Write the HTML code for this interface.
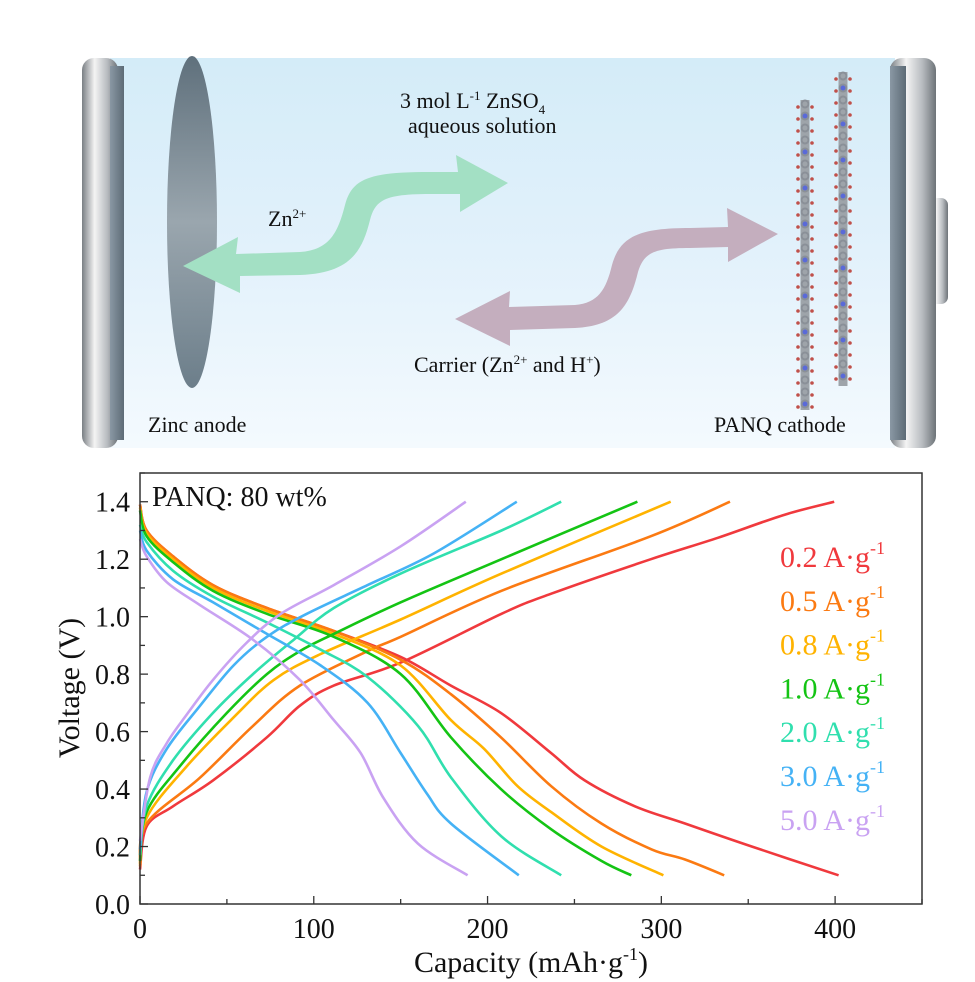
<!DOCTYPE html>
<html><head><meta charset="utf-8">
<style>
html,body{margin:0;padding:0;background:#fff;}
svg{display:block;font-family:"Liberation Serif",serif;}
</style></head>
<body>
<svg id="fig" width="975" height="982" viewBox="0 0 975 982" xmlns="http://www.w3.org/2000/svg">
<defs>
<linearGradient id="tube" x1="0" y1="0" x2="0" y2="1">
<stop offset="0" stop-color="#d4ecf8"/><stop offset="0.5" stop-color="#e2f1fb"/><stop offset="1" stop-color="#f4fafe"/>
</linearGradient>
<linearGradient id="cap" x1="0" y1="0" x2="1" y2="0">
<stop offset="0" stop-color="#7a7f84"/><stop offset="0.35" stop-color="#f4f4f4"/><stop offset="0.7" stop-color="#b8bcc0"/><stop offset="1" stop-color="#6d7378"/>
</linearGradient>
<linearGradient id="inner" x1="0" y1="0" x2="1" y2="0">
<stop offset="0" stop-color="#8a98a4"/><stop offset="1" stop-color="#5d6b76"/>
</linearGradient>
<linearGradient id="zinc" x1="0" y1="0" x2="0" y2="1">
<stop offset="0" stop-color="#5f707c"/><stop offset="0.5" stop-color="#9aa6ae"/><stop offset="1" stop-color="#6c7e8a"/>
</linearGradient>
</defs>

<g>
<rect x="110" y="58" width="785" height="390" fill="url(#tube)"/>
<rect x="82" y="58" width="36" height="390" rx="12" fill="url(#cap)"/>
<rect x="110" y="66" width="14" height="374" fill="url(#inner)"/>
<rect x="930" y="198" width="18" height="106" rx="7" fill="url(#cap)"/>
<rect x="890" y="58" width="46" height="390" rx="12" fill="url(#cap)"/>
<rect x="890" y="66" width="16" height="374" fill="url(#inner)"/>
<ellipse cx="192" cy="222" rx="25" ry="166" fill="url(#zinc)"/>
<path fill="#a3e0c4" d="M183,266 L238,237 L236,254 L300,252 C330,250 338,232 345,205 C352,178 370,172 430,172 L458,172 L456,155 L508,183 L460,212 L460,194 L430,194 C385,194 375,200 370,220 C362,252 350,273 300,275 L240,276 L240,293 Z"/>
<path fill="#c4aebe" d="M455,319 L510,291 L509,307 L575,305 C598,303 606,290 612,265 C620,236 640,228 690,228 L728,227 L727,208 L778,234 L728,262 L728,247 L690,248 C655,248 644,252 638,272 C630,305 618,326 575,328 L510,330 L510,346 Z"/>
<g id="chain1"></g>
<g id="chain2"></g>
<text x="400" y="108" font-size="22" fill="#111">3 mol L<tspan dy="-8" font-size="13">-1</tspan><tspan dy="8"> ZnSO</tspan><tspan dy="6" font-size="13">4</tspan></text>
<text x="408" y="133" font-size="22" fill="#111">aqueous solution</text>
<text x="268" y="226" font-size="22" fill="#111">Zn<tspan dy="-8" font-size="13">2+</tspan></text>
<text x="414" y="372" font-size="22" fill="#111">Carrier (Zn<tspan dy="-8" font-size="13">2+</tspan><tspan dy="8"> and H</tspan><tspan dy="-8" font-size="13">+</tspan><tspan dy="8">)</tspan></text>
<text x="148" y="432" font-size="22" fill="#111">Zinc anode</text>
<text x="714" y="432" font-size="22" fill="#111">PANQ cathode</text>
</g>

<g id="chart"></g>
</svg>
<script>
const seriesLabels = ["0.2 A·g", "0.5 A·g", "0.8 A·g", "1.0 A·g", "2.0 A·g", "3.0 A·g", "5.0 A·g"];
const seriesColors = ["#f0393d", "#fb7a12", "#ffb300", "#14c414", "#30dfae", "#45b2f5", "#c9a2f2"];
const xTicks = [0, 100, 200, 300, 400];
const yTicks = [0.0, 0.2, 0.4, 0.6, 0.8, 1.0, 1.2, 1.4];
const chargeCap = [
 [0,3.8,19,42,73,92,111.5,150,208,236.6,294,332.7,371,399.5],
 [0,3.8,34.6,65,92,131,150,208,294,339.5],
 [0,3.8,27,54,77,104,150,208,305.4],
 [0,3.8,23,50,73,92,111.5,150,208,286.2],
 [0,3.8,19,42,65,88.5,111.5,150,208,242.4],
 [0,3.8,15.4,34.6,53.8,73,96,131,169,216.8],
 [0,5.8,15.4,27,42,61.5,81,111.5,150,187.5]
];
const chargeV = [
 [0.12,0.27,0.34,0.43,0.58,0.69,0.76,0.84,1.01,1.08,1.2,1.275,1.355,1.4],
 [0.13,0.28,0.44,0.62,0.76,0.88,0.93,1.09,1.28,1.4],
 [0.14,0.30,0.48,0.65,0.78,0.87,0.99,1.15,1.4],
 [0.15,0.32,0.48,0.665,0.80,0.88,0.94,1.05,1.2,1.4],
 [0.17,0.34,0.5,0.665,0.80,0.92,1.03,1.15,1.30,1.4],
 [0.19,0.39,0.54,0.69,0.83,0.93,1.01,1.11,1.22,1.4],
 [0.22,0.44,0.56,0.66,0.78,0.91,1.01,1.11,1.245,1.4]
];
const dischargeCap = [
 [0,3.8,19,42,73,111.5,150,178.9,207.7,236.6,255.9,284.8,313.6,352,402],
 [0,3.8,19,42,73,111.5,150,178.9,207.7,236.6,265.5,294.4,313.6,336.2],
 [0,3.8,19,42,73,111.5,150,178.9,198,217.3,236.6,265.5,301.2],
 [0,3.8,19,42,73,111.5,150,178.9,207.7,236.6,265.5,282.7],
 [0,3.8,19,42,73,104,131,160,179,208,242.4],
 [0,3.8,19,42,73,104,131,150,165,178.9,218],
 [0,3.8,15.4,34.6,65,92,111.5,127,140,160,188.5]
];
const dischargeV = [
 [1.39,1.30,1.21,1.11,1.03,0.95,0.86,0.76,0.665,0.525,0.43,0.34,0.28,0.20,0.1],
 [1.39,1.30,1.21,1.11,1.03,0.95,0.85,0.73,0.58,0.41,0.28,0.19,0.155,0.1],
 [1.38,1.29,1.20,1.10,1.02,0.94,0.83,0.64,0.54,0.41,0.32,0.2,0.1],
 [1.37,1.28,1.19,1.09,1.01,0.93,0.80,0.58,0.40,0.26,0.15,0.1],
 [1.32,1.26,1.16,1.07,0.98,0.885,0.79,0.62,0.44,0.235,0.1],
 [1.30,1.23,1.13,1.05,0.94,0.83,0.70,0.525,0.385,0.28,0.1],
 [1.27,1.21,1.12,1.04,0.92,0.78,0.64,0.525,0.37,0.21,0.1]
];

const NS = "http://www.w3.org/2000/svg";
const L = 140, R = 922, T = 473, B = 904;
const xMin = 0, xMax = 450, yMin = 0, yMax = 1.5;
function xs(v){ return L + (v - xMin) / (xMax - xMin) * (R - L); }
function ys(v){ return B - (v - yMin) / (yMax - yMin) * (B - T); }
const chart = document.getElementById('chart');
function mk(tag, attrs, parent){
  const e = document.createElementNS(NS, tag);
  for (const k in attrs) e.setAttribute(k, attrs[k]);
  (parent || chart).appendChild(e);
  return e;
}
function smoothPath(xsArr, ysArr){
  const p = xsArr.map((x, i) => [xs(x), ys(ysArr[i])]);
  let d = "M" + p[0][0].toFixed(1) + "," + p[0][1].toFixed(1);
  for (let i = 0; i < p.length - 1; i++){
    const p0 = p[Math.max(0, i-1)], p1 = p[i], p2 = p[i+1], p3 = p[Math.min(p.length-1, i+2)];
    const c1 = [p1[0] + (p2[0]-p0[0])/6, p1[1] + (p2[1]-p0[1])/6];
    const c2 = [p2[0] - (p3[0]-p1[0])/6, p2[1] - (p3[1]-p1[1])/6];
    d += " C" + c1[0].toFixed(1) + "," + c1[1].toFixed(1) + " " + c2[0].toFixed(1) + "," + c2[1].toFixed(1) + " " + p2[0].toFixed(1) + "," + p2[1].toFixed(1);
  }
  return d;
}

for (let s = 0; s < seriesLabels.length; s++){
  const c = mk('path', {d: smoothPath(chargeCap[s], chargeV[s]), fill: 'none', stroke: seriesColors[s], 'stroke-width': 2.6});
  
  
  const d = mk('path', {d: smoothPath(dischargeCap[s], dischargeV[s]), fill: 'none', stroke: seriesColors[s], 'stroke-width': 2.6});
  
  
}

const frame = mk('rect', {x: L, y: T, width: R-L, height: B-T, fill: 'none', stroke: '#333', 'stroke-width': 1.5});



for (let v = 0; v <= 450; v += 50){
  const major = v % 100 === 0;
  const t = mk('line', {x1: xs(v), x2: xs(v), y1: B, y2: B - (major ? 8 : 5), stroke: '#333', 'stroke-width': 1.3});
  
  
}
xTicks.forEach(v => {
  const t = mk('text', {x: xs(v), y: B + 34, 'font-size': 28, 'text-anchor': 'middle', fill: '#111'});
  t.textContent = String(v);
  
  
});
for (let i = 0; i <= 15; i++){
  const v = i / 10;
  const major = i % 2 === 0;
  const t = mk('line', {x1: L, x2: L + (major ? 8 : 5), y1: ys(v), y2: ys(v), stroke: '#333', 'stroke-width': 1.3});
  
  
}
yTicks.forEach(v => {
  const t = mk('text', {x: L - 10, y: ys(v) + 10, 'font-size': 28, 'text-anchor': 'end', fill: '#111'});
  t.textContent = v.toFixed(1);
  
  
});

const xt = mk('text', {x: 531, y: 972, 'font-size': 30, 'text-anchor': 'middle', fill: '#111'});


xt.innerHTML = 'Capacity (mAh·g<tspan dy="-12" font-size="18">-1</tspan><tspan dy="12">)</tspan>';
const yt = mk('text', {x: 0, y: 0, 'font-size': 30, 'text-anchor': 'middle', fill: '#111', transform: 'translate(79,688) rotate(-90)'});


yt.textContent = 'Voltage (V)';

const an = mk('text', {x: 152, y: 506, 'font-size': 28, fill: '#111'});


an.textContent = 'PANQ: 80 wt%';

seriesLabels.forEach((lab, i) => {
  const t = mk('text', {x: 780, y: 567 + i * 43.8, 'font-size': 30, fill: seriesColors[i]});
  
  
  t.innerHTML = lab + '<tspan dy="-13" font-size="18">-1</tspan>';
});

function chain(id, cx, y0, y1){
  const g = document.getElementById(id);
  mk('line', {x1: cx, x2: cx, y1: y0, y2: y1, stroke: '#9ea4aa', 'stroke-width': 9}, g);
  for (let y = y0 + 4; y < y1; y += 12){
    mk('circle', {cx: cx, cy: y, r: 3.5, fill: 'none', stroke: '#8a9098', 'stroke-width': 2}, g);
    mk('circle', {cx: cx - 7, cy: y + 3, r: 1.8, fill: '#c0504a'}, g);
    mk('circle', {cx: cx + 7, cy: y + 3, r: 1.8, fill: '#c0504a'}, g);
  }
  for (let y = y0 + 16; y < y1; y += 36){
    mk('circle', {cx: cx, cy: y, r: 2.5, fill: '#5a6ad8'}, g);
  }
}
chain('chain1', 805, 100, 410);
chain('chain2', 843, 72, 386);
</script>
</body></html>
